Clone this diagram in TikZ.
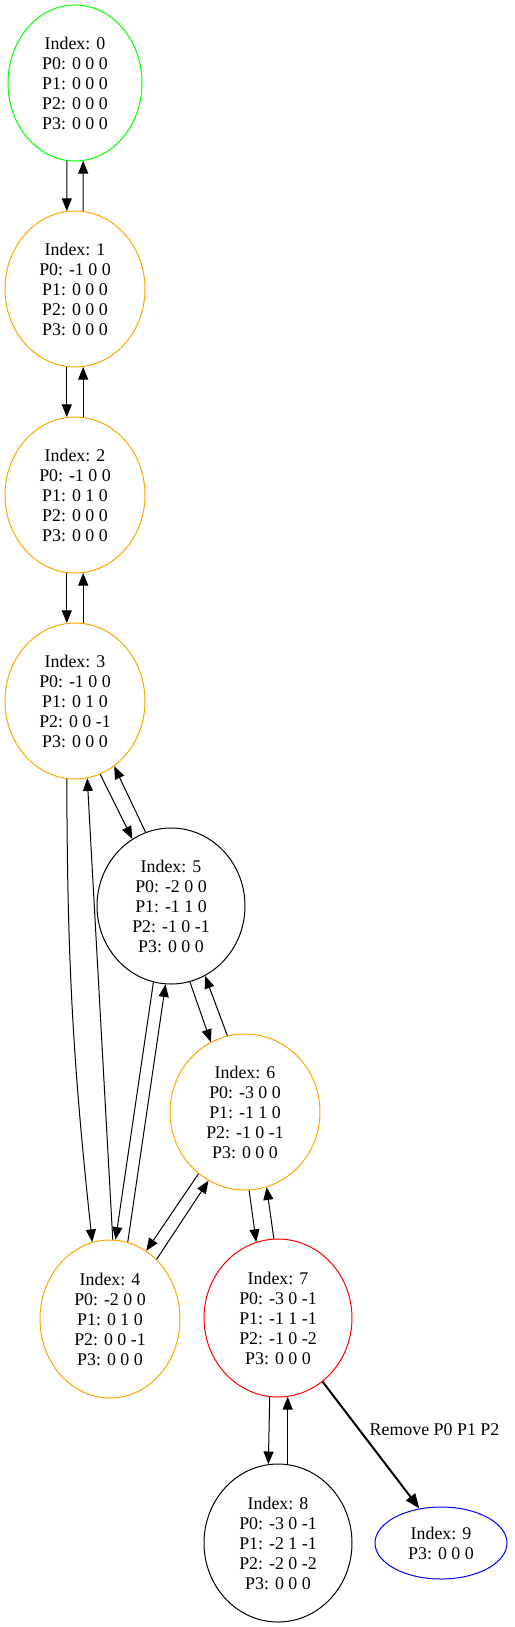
\documentclass[tikz,border=0pt]{standalone}
\usepackage{fontspec}
\setmainfont{Liberation Serif}
\usepackage{tikz}
\usetikzlibrary{arrows.meta,shapes,positioning}
\definecolor{stgreen}{RGB}{0,255,0}
\definecolor{storange}{RGB}{255,165,0}
\tikzstyle{state}=[ellipse,draw,line width=0.75pt,inner sep=0pt,align=center,font=\fontsize{13.4}{15}\selectfont]
\tikzstyle{edge} = [draw,line width=0.75pt,-{Triangle[length=9.5pt,width=7.5pt]}]
\tikzstyle{removal} = [draw,line width=1.5pt,-{Triangle[length=11pt,width=8.5pt]}]
\tikzstyle{weight} = [font=\fontsize{13.4}{15}\selectfont]

\begin{document}
\begin{tikzpicture}[x=0.75pt,y=-0.75pt]
\useasboundingbox (0,0) rectangle (514,1627);

% First we draw the states
\foreach \pos / \name / \col / \w / \h / \txt in {
  {(75,83)/n0/stgreen/100.5pt/117pt/{Index: 0\\P0: 0 0 0\\P1: 0 0 0\\P2: 0 0 0\\P3: 0 0 0}},
  {(75,289)/n1/storange/105pt/117pt/{Index: 1\\P0: -1 0 0\\P1: 0 0 0\\P2: 0 0 0\\P3: 0 0 0}},
  {(75,495)/n2/storange/105pt/117pt/{Index: 2\\P0: -1 0 0\\P1: 0 1 0\\P2: 0 0 0\\P3: 0 0 0}},
  {(75,701)/n3/storange/105pt/117pt/{Index: 3\\P0: -1 0 0\\P1: 0 1 0\\P2: 0 0 -1\\P3: 0 0 0}},
  {(171,906)/n5/black/111pt/117pt/{Index: 5\\P0: -2 0 0\\P1: -1 1 0\\P2: -1 0 -1\\P3: 0 0 0}},
  {(245,1112)/n6/storange/112.5pt/117pt/{Index: 6\\P0: -3 0 0\\P1: -1 1 0\\P2: -1 0 -1\\P3: 0 0 0}},
  {(110,1319)/n4/storange/105pt/118.5pt/{Index: 4\\P0: -2 0 0\\P1: 0 1 0\\P2: 0 0 -1\\P3: 0 0 0}},
  {(278,1318)/n7/red/111pt/118.5pt/{Index: 7\\P0: -3 0 -1\\P1: -1 1 -1\\P2: -1 0 -2\\P3: 0 0 0}},
  {(278,1543)/n8/black/111pt/118.5pt/{Index: 8\\P0: -3 0 -1\\P1: -2 1 -1\\P2: -2 0 -2\\P3: 0 0 0}},
  {(441,1543)/n9/blue/99pt/54pt/{Index: 9\\P3: 0 0 0}}}
\node[state,draw=\col,minimum width=\w,minimum height=\h] (\name) at \pos {\txt};

% Connect states with transitions, given by border angles
\foreach \source / \sa / \dest / \da in {n0/264/n1/96,n1/84/n0/276,n1/264/n2/96,n2/84/n1/276,
  n2/264/n3/96,n3/84/n2/276,n3/289/n5/120,n5/109/n3/301,n4/88/n3/279,n5/257/n4/86,
  n4/77/n5/266,n5/284/n6/116,n6/103/n5/296,n6/233/n4/62,n4/52/n6/242,n6/273/n7/106,
  n7/93/n6/286,n7/264/n8/97,n8/83/n7/277}
\path[edge] (\source.\sa) -- (\dest.\da);

\path[edge] (n3.264) to[bend right=3] (n4.103);

\path[removal] (n7.305) -- node[weight,pos=0.38,anchor=west,inner sep=7pt] {Remove P0 P1 P2} (n9.122);

\end{tikzpicture}
\end{document}
